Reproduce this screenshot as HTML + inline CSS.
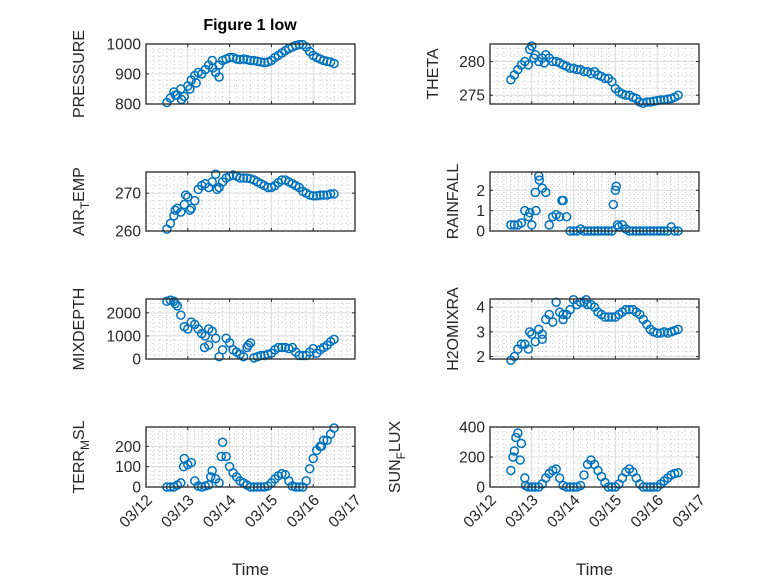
<!DOCTYPE html>
<html><head><meta charset="utf-8"><style>
html,body{margin:0;padding:0;background:#fff;}
svg{display:block;font-family:"Liberation Sans","DejaVu Sans",sans-serif;}
</style></head><body>
<svg id="fig" width="778" height="583" viewBox="0 0 778 583">
<rect width="778" height="583" fill="#fff"/>
<text x="250" y="30" text-anchor="middle" font-size="16" font-weight="bold" fill="#000">Figure 1 low</text>
</svg>
<script>
// time: days after 03/12 00:00
const times = [];
for (let i = 0; i < 49; i++) times.push(0.5 + i / 12);
const dayLabels = ["03/12","03/13","03/14","03/15","03/16","03/17"];

const pressureVals = [805,820,840,830,850,825,860,880,895,905,900,915,930,945,905,930,945,950,955,955,950,948,950,948,945,945,942,940,938,940,945,955,962,970,978,985,990,995,998,998,990,975,962,955,950,945,942,940,935];
const pressureExtraT = [0.7,0.85,1.05,1.2,1.75,1.6];
const pressureExtraV = [830,815,850,870,890,920];
const airTempVals = [260.5,262,264,266,265,267,269,266,268,271,272,272.5,271.5,273,275,271.5,273,274,274.5,274.8,274.5,274,274,274,273.8,273.5,273,272.5,272,271.5,271.5,272,272.8,273.5,273.5,273,272.5,272,271.5,270.5,270,269.5,269.3,269.3,269.5,269.5,269.5,269.8,269.8];
const airTempExtraT = [0.7,0.95,1.05,1.7];
const airTempExtraV = [265.5,269.5,265.5,271];
const mixDepthVals = [2500,2550,2500,2300,1900,1400,1300,1600,1500,1300,1100,1000,600,1200,900,100,400,900,700,400,300,200,100,500,700,50,100,150,150,200,250,400,500,500,500,450,500,300,150,150,150,300,450,250,400,500,600,750,850];
const mixDepthExtraT = [0.7,1.4,1.5,2.45];
const mixDepthExtraV = [2400,500,1300,600];
const terrVals = [0,0,0,10,20,140,110,120,30,5,0,5,10,80,40,20,220,150,100,70,50,30,20,10,0,0,0,0,0,5,20,40,55,65,60,30,5,0,0,0,30,90,140,180,200,230,230,260,290];
const terrExtraT = [0.9,1.55,1.8,4.2];
const terrExtraV = [100,50,150,200];
const thetaVals = [277.3,278,278.8,279.5,280,279.5,282.3,281,280,280.5,281,280.5,280,280,279.8,279.5,279.3,279,279,278.8,278.8,278.5,278.5,278.2,278.5,278,277.8,277.5,277.5,277,276,275.5,275.2,275,275,274.7,274.5,274,273.8,274,274,274.1,274.2,274.3,274.3,274.4,274.5,274.7,275];
const thetaExtraT = [0.95,1.05,1.3];
const thetaExtraV = [281.8,280.5,279.8];
const rainVals = [0.3,0.3,0.3,0.4,1.0,0.7,0.3,1.9,2.7,2.1,1.9,0.3,0.7,0.8,0.7,1.5,0.7,0,0,0,0.1,0,0,0,0,0,0,0,0,0,2.0,0.2,0.3,0.1,0,0,0,0,0,0,0,0,0,0,0,0,0.2,0,0];
const rainExtraT = [1.18,1.72,2.95,3.02,3.05,0.95,1.1];
const rainExtraV = [2.5,1.5,1.3,2.2,0.3,0.9,1.0];
const h2oVals = [1.85,2.0,2.3,2.5,2.5,2.3,2.9,2.6,3.1,2.7,3.5,3.7,3.4,4.2,3.8,3.5,3.7,3.9,4.3,4.1,4.2,4.2,4.1,4.1,4.0,3.8,3.7,3.6,3.6,3.6,3.6,3.7,3.8,3.9,3.9,3.9,3.8,3.7,3.5,3.3,3.1,3.0,2.95,2.95,3.0,2.95,3.0,3.05,3.1];
const h2oExtraT = [0.95,1.25,1.75,2.3];
const h2oExtraV = [3.0,2.9,3.7,4.3];
const sunVals = [110,240,360,290,60,0,0,0,0,20,60,90,110,120,60,10,0,0,0,0,10,80,150,180,150,110,70,30,0,0,0,20,60,100,120,100,60,20,0,0,0,0,0,20,40,60,80,90,95];
const sunExtraT = [0.55,0.62,0.72,0.85];
const sunExtraV = [200,330,180,10];

const panels = [
 {name:"pressure", label:["PRESSURE"], x0:146, x1:355, y0:44, y1:104, min:800, max:1000, ticks:[800,900,1000], minor:20, v:pressureVals, et:pressureExtraT, ev:pressureExtraV, lx:84},
 {name:"theta", label:["THETA"], x0:490, x1:699, y0:44, y1:104, min:273.7, max:282.6, ticks:[275,280], minor:1, v:thetaVals, et:thetaExtraT, ev:thetaExtraV, lx:438},
 {name:"air-temp", label:["AIR","T","EMP"], x0:146, x1:355, y0:172, y1:231, min:260, max:275.6, ticks:[260,270], minor:2, v:airTempVals, et:airTempExtraT, ev:airTempExtraV, lx:84},
 {name:"rainfall", label:["RAINFALL"], x0:490, x1:699, y0:172, y1:231, min:0, max:2.9, ticks:[0,1,2], minor:0.2, v:rainVals, et:rainExtraT, ev:rainExtraV, lx:458},
 {name:"mixdepth", label:["MIXDEPTH"], x0:146, x1:355, y0:299, y1:359, min:0, max:2600, ticks:[0,1000,2000], minor:200, v:mixDepthVals, et:mixDepthExtraT, ev:mixDepthExtraV, lx:84},
 {name:"h2omixra", label:["H2OMIXRA"], x0:490, x1:699, y0:299, y1:359, min:1.9, max:4.33, ticks:[2,3,4], minor:0.2, v:h2oVals, et:h2oExtraT, ev:h2oExtraV, lx:458},
 {name:"terr-msl", label:["TERR","M","SL"], x0:146, x1:355, y0:427, y1:487, min:0, max:295, ticks:[0,100,200], minor:20, v:terrVals, et:terrExtraT, ev:terrExtraV, lx:84},
 {name:"sun-flux", label:["SUN","F","LUX"], x0:490, x1:699, y0:427, y1:487, min:0, max:400, ticks:[0,200,400], minor:40, v:sunVals, et:sunExtraT, ev:sunExtraV, lx:400}
];

const NS = "http://www.w3.org/2000/svg";
const svg = document.getElementById("fig");
function mk(tag, attrs, parent) {
  const e = document.createElementNS(NS, tag);
  for (const k in attrs) e.setAttribute(k, attrs[k]);
  (parent || svg).appendChild(e);
  return e;
}

panels.forEach((p, idx) => {
  const g = mk("g", {});
  
  
  const xs = t => p.x0 + (t / 5) * (p.x1 - p.x0);
  const ys = v => p.y1 - (v - p.min) / (p.max - p.min) * (p.y1 - p.y0);
  mk("rect", {x:p.x0, y:p.y0, width:p.x1-p.x0, height:p.y1-p.y0, fill:"#fff"}, g);
  for (let d = 0; d < 5; d++) for (let k = 1; k < 6; k++) {
    const x = xs(d + k / 6);
    mk("line", {x1:x, x2:x, y1:p.y0, y2:p.y1, stroke:"#c8c8c8", "stroke-width":1, "stroke-dasharray":"1,3"}, g);
  }
  for (let v = Math.ceil(p.min / p.minor) * p.minor; v <= p.max; v += p.minor) {
    const y = ys(v);
    mk("line", {x1:p.x0, x2:p.x1, y1:y, y2:y, stroke:"#c8c8c8", "stroke-width":1, "stroke-dasharray":"1,3"}, g);
  }
  for (let d = 1; d < 5; d++) {
    const x = xs(d);
    mk("line", {x1:x, x2:x, y1:p.y0, y2:p.y1, stroke:"#dcdcdc", "stroke-width":1}, g);
  }
  p.ticks.forEach(tv => {
    const y = ys(tv);
    mk("line", {x1:p.x0, x2:p.x1, y1:y, y2:y, stroke:"#dcdcdc", "stroke-width":1}, g);
    mk("line", {x1:p.x0, x2:p.x0+3, y1:y, y2:y, stroke:"#262626"}, g);
    mk("line", {x1:p.x1, x2:p.x1-3, y1:y, y2:y, stroke:"#262626"}, g);
    const tl = mk("text", {x:p.x0-5, y:y+5.5, "text-anchor":"end", "font-size":15.5, fill:"#262626"}, g);
    
    
    tl.textContent = String(tv);
  });
  for (let d = 0; d <= 5; d++) {
    const x = xs(d);
    mk("line", {x1:x, x2:x, y1:p.y1, y2:p.y1-3, stroke:"#262626"}, g);
    mk("line", {x1:x, x2:x, y1:p.y0, y2:p.y0+3, stroke:"#262626"}, g);
  }
  const allT = times.concat(p.et), allV = p.v.concat(p.ev);
  allT.forEach((t, i) => {
    const c = mk("circle", {cx:xs(t), cy:ys(allV[i]), r:4, fill:"none", stroke:"#0072BD", "stroke-width":1.5}, g);
    
    
  });
  const box = mk("rect", {x:p.x0, y:p.y0, width:p.x1-p.x0, height:p.y1-p.y0, fill:"none", stroke:"#262626", "stroke-width":1.3}, g);
  
  
  const cy = (p.y0 + p.y1) / 2;
  const lab = mk("text", {x:0, y:0, transform:`translate(${p.lx},${cy}) rotate(-90)`, "text-anchor":"middle", "font-size":16, fill:"#262626"}, g);
  
  
  if (p.label.length === 1) lab.textContent = p.label[0];
  else {
    const a = mk("tspan", {}, lab); a.textContent = p.label[0];
    const b = mk("tspan", {dy:5, "font-size":12}, lab); b.textContent = p.label[1];
    const c = mk("tspan", {dy:-5}, lab); c.textContent = p.label[2];
  }
  if (idx >= 6) {
    dayLabels.forEach((s, d) => {
      const x = xs(d);
      const tl = mk("text", {x:0, y:0, transform:`translate(${x+7},${p.y1+14}) rotate(-45)`, "text-anchor":"end", "font-size":15.5, fill:"#262626"}, g);
      
      
      tl.textContent = s;
    });
    const xt = mk("text", {x:(p.x0+p.x1)/2, y:575, "text-anchor":"middle", "font-size":17, fill:"#262626"}, g);
    
    
    xt.textContent = "Time";
  }
});
</script>
</body></html>
